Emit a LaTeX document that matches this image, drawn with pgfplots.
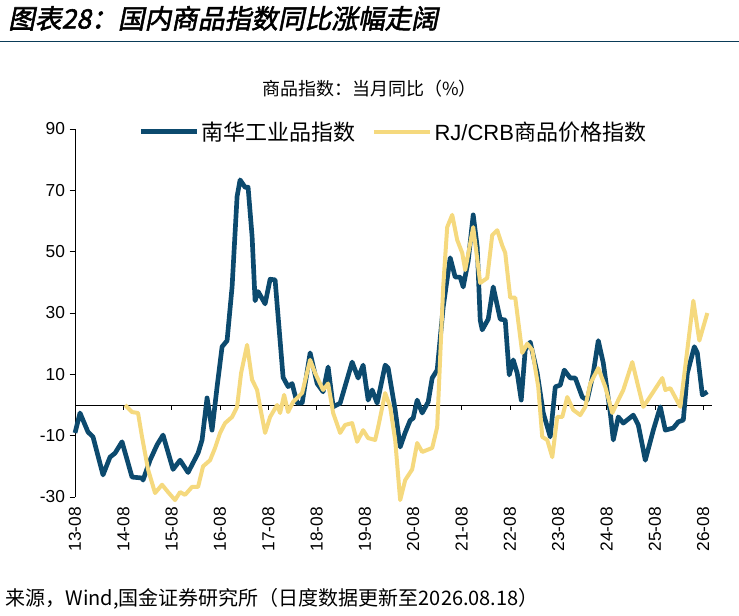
\documentclass[border=0pt]{standalone}
\usepackage{pgfplots}
\pgfplotsset{compat=1.18}
\usepackage{fontspec}
\setmainfont{Liberation Sans}
\newfontfamily\cjk{Noto Sans CJK SC}
\newfontfamily\cjkit[FakeSlant=0.2,FakeBold=2]{Noto Sans CJK SC}
\definecolor{navy}{RGB}{12,74,110}
\definecolor{sand}{RGB}{245,217,126}
\begin{document}
\begin{tikzpicture}
\useasboundingbox (0,0) rectangle (554.25pt,461.25pt);
\node[anchor=west,inner sep=0] at (6pt,447.5pt) {\cjkit\fontsize{20}{22}\selectfont 图表28：国内商品指数同比涨幅走阔};
\draw[navy!80!black,line width=0.8pt] (0,430pt) -- (554.25pt,430pt);
\node[inner sep=0] at (277pt,395pt) {\cjk\fontsize{13.5}{15}\selectfont 商品指数：当月同比（\%）};
\begin{axis}[
  at={(56.25pt,88.5pt)}, anchor=south west, scale only axis,
  width=478pt, height=276pt,
  xmin=75, xmax=712, ymin=-30, ymax=90,
  ytick={-30,-10,10,30,50,70,90},
  y tick label style={font=\fontsize{13}{15}\selectfont},
  /pgf/number format/assume math mode=true,
  xtick={75,123.3,171.6,219.9,268.2,316.5,364.8,413.1,461.4,509.7,558,606.3,654.6,702.9},
  xticklabels={13-08,14-08,15-08,16-08,17-08,18-08,19-08,20-08,21-08,22-08,23-08,24-08,25-08,26-08},
  x tick label style={rotate=90,anchor=east,font=\fontsize{13}{15}\selectfont},
  x tick style={draw=none},
  axis x line*=bottom, x axis line style={draw=none},
  axis y line*=left, y axis line style={black,line width=0.6pt},
  y tick style={black,line width=0.6pt}, tick align=outside, major tick length=4pt,
  clip=false,
  legend style={at={(0.5,1)},anchor=south,yshift=-14pt,draw=none,fill=none,legend columns=2,
    font=\fontsize{16.5}{18}\selectfont,/tikz/every even column/.append style={column sep=10pt}},
  legend image code/.code={\draw[#1] (0pt,0pt) -- (42pt,0pt);},
]
\draw[black,line width=0.6pt] (axis cs:75,0) -- (axis cs:712,0);
\pgfplotsinvokeforeach{123.3,171.6,219.9,268.2,316.5,364.8,413.1,461.4,509.7,558,606.3,654.6,702.9}{
  \draw[black,line width=0.6pt] (axis cs:#1,0) -- ([yshift=-4pt]axis cs:#1,0);
}
\addplot[navy,line width=3.5pt,line join=round] coordinates {
(75,-9.1)(80,-2.6)(88,-8.8)(93,-10.4)(103,-22.8)(110,-17)(115,-15.7)(122,-12)(132,-23.5)(142,-23.8)(143,-24.5)
(150,-18)(157,-13)(163,-9.8)(173,-21)(180,-18)(188,-22)(198,-15.7)(202,-11.4)(207,2.3)(212,-8.2)(217,5.9)
(222,19)(227,21)(232,38.5)(237,68)(240,73.4)(245,71)(248,71)(252,55)(255,34)(258,37)(265,33)(270,41)(275,40.8)
(283,9)(288,6)(292,7)(297,0.6)(302,0.6)(310,17)(317,7)(323,4.3)(328,12.4)(333,-0.6)(340,0.6)(352,14)(358,8.8)
(363,13)(368,1.6)(372,4.9)(377,0.6)(385,13)(388,12)(395,-1.6)(400,-13.7)(405,-9)(410,-5)(413,-4.3)(417,1.6)
(422,-2.6)(428,1)(432,8.8)(437,11.4)(443,32)(450,48)(455,41.7)(460,41.7)(463,38.5)(468,47)(473,62)(477,51.5)
(480,27.7)(482,24.5)(488,28)(493,38.5)(500,28)(505,27.7)(509,9.8)(513,14.7)(517,10.4)(521,1.6)(525,18)(530,20.5)
(537,10.4)(543,-2.6)(550,-10.4)(555,5.9)(560,6.5)(564,11.4)(570,8.8)(575,8.8)(582,2.6)(587,1.6)(593,10.4)(598,21)
(603,13.7)(610,-2.6)(613,-11.4)(618,-3.9)(623,-5.9)(633,-3.3)(638,-6.5)(645,-18)(653,-8.2)(660,-0.6)(665,-8.2)
(673,-7.5)(678,-5.5)(683,-4.9)(687,10.4)(694,19)(697,17)(702,3.3)(707,4.3)
};
\addlegendentry{\cjk 南华工业品指数}
\addplot[sand,line width=3pt,line join=round] coordinates {
(125,0)(132,-2.3)(138,-2.6)(142,-10.4)(148,-21)(155,-28.7)(162,-26)(168,-28.4)(175,-31)(180,-28.4)(185,-29.3)
(192,-26.7)(198,-26.7)(203,-20)(210,-18)(215,-14)(220,-9.1)(225,-5.9)(232,-3.9)(237,-0.6)(241,10.4)(247,19.6)
(252,8.2)(257,4.9)(260,-0.6)(265,-9.1)(270,-3.9)(277,0)(280,-2.6)(284,3.3)(288,-2.3)(293,1)(302,3.9)(310,14.7)
(315,10.4)(323,4.9)(328,7)(333,-2.6)(340,-9.1)(345,-6.5)(352,-5.9)(357,-12)(363,-8.2)(368,-10.8)(375,-11.4)
(378,-7.2)(385,3.9)(390,-0.6)(395,-11.4)(400,-31)(405,-24.5)(412,-21)(417,-12.4)(422,-15.3)(432,-14)(437,-7.2)
(443,38.5)(447,58)(452,62)(457,53.8)(462,49.6)(465,44)(473,58)(480,39.8)(487,41.4)(492,55.4)(497,57)(502,52)
(505,49.6)(510,35)(515,35)(522,17)(527,20)(532,18)(538,5.9)(542,-10.4)(547,-11.4)(552,-17)(557,-3.9)(562,-3.9)
(567,2.6)(573,-1.6)(580,-3.3)(585,-0.6)(590,7)(598,12)(605,5.9)(612,-2.6)(618,1.6)(623,4.9)(632,14)(638,5.9)
(643,-0.6)(653,4.3)(662,8.8)(665,4.9)(670,5.5)(680,-0.6)(687,18)(693,34)(699,21)(707,30)
};
\addlegendentry{RJ/CRB{\cjk 商品价格指数}}
\end{axis}
\node[anchor=west,inner sep=0] at (4pt,12pt) {\cjk\fontsize{15}{17}\selectfont 来源，Wind,国金证券研究所（日度数据更新至2026.08.18）};
\end{tikzpicture}
\end{document}
